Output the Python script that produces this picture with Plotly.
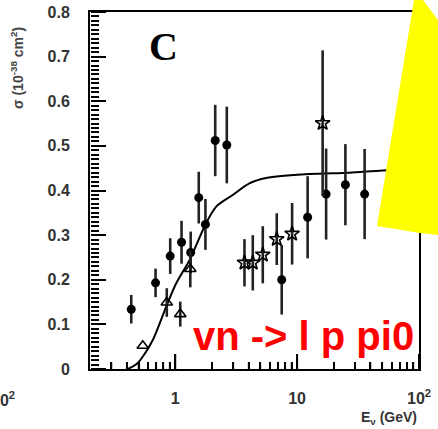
import plotly.graph_objects as go

# ---- data ----
dot_E = [0.436, 0.69, 0.91, 1.127, 1.34, 1.56, 1.77, 2.13, 2.65, 7.48, 12.2, 17.3, 24.9, 35.8]
dot_sig = [0.134, 0.193, 0.253, 0.284, 0.261, 0.384, 0.324, 0.512, 0.502, 0.200, 0.340, 0.392, 0.413, 0.392]
dot_err = [0.032, 0.032, 0.040, 0.048, 0.047, 0.058, 0.057, 0.080, 0.086, 0.078, 0.092, 0.102, 0.091, 0.101]

star_E = [3.70, 4.33, 5.23, 6.81, 9.1, 16.2]
star_sig = [0.238, 0.238, 0.256, 0.291, 0.303, 0.551]
star_err = [0.053, 0.062, 0.064, 0.058, 0.069, 0.163]

tri_E = [0.542, 0.853, 1.10, 1.33]
tri_sig = [0.052, 0.149, 0.123, 0.224]
tri_err = [0.0, 0.032, 0.028, 0.041]

fit_E = [0.399, 0.422, 0.482, 0.543, 0.655, 0.844, 1.019, 1.31, 1.795, 2.17, 2.965, 4.06, 5.57, 12.6, 26.9, 50.3, 98.7]
fit_sig = [0.0, 0.002, 0.011, 0.028, 0.065, 0.140, 0.192, 0.244, 0.327, 0.364, 0.390, 0.416, 0.428, 0.437, 0.440, 0.445, 0.447]

x_tickvals = [1, 10, 100]
x_ticktext = ["1", "10", "10<sup>2</sup>"]
x_minor = [0.3, 0.4, 0.5, 0.6, 0.7, 0.8, 0.9, 2, 3, 4, 5, 6, 7, 8, 9,
           20, 30, 40, 50, 60, 70, 80, 90]
y_tickvals = [0, 0.1, 0.2, 0.3, 0.4, 0.5, 0.6, 0.7, 0.8]
y_ticktext = ["0", "0.1", "0.2", "0.3", "0.4", "0.5", "0.6", "0.7", "0.8"]

X_RANGE = [-0.699, 2.0]
Y_RANGE = [0, 0.8]

ERRC = "#222222"
fig = go.Figure()

fig.add_trace(go.Scatter(
    x=fit_E, y=fit_sig, mode="lines", line=dict(color="black", width=2, shape="spline", smoothing=0.8),
    hoverinfo="skip", showlegend=False))

fig.add_trace(go.Scatter(
    x=dot_E, y=dot_sig, mode="markers",
    marker=dict(symbol="circle", size=9, color="black"),
    error_y=dict(type="data", array=dot_err, color=ERRC, thickness=2.6, width=0),
    showlegend=False))

fig.add_trace(go.Scatter(
    x=star_E, y=star_sig, mode="markers",
    marker=dict(symbol="star-open", size=11, color="black", line=dict(width=1.6, color="black")),
    error_y=dict(type="data", array=star_err, color=ERRC, thickness=2.6, width=0),
    showlegend=False))

fig.add_trace(go.Scatter(
    x=tri_E, y=tri_sig, mode="markers",
    marker=dict(symbol="triangle-up-open", size=10, color="black", line=dict(width=1.6, color="black")),
    error_y=dict(type="data", array=tri_err, color=ERRC, thickness=2.6, width=0),
    showlegend=False))

# invisible carriers so the tick-only overlay axes are drawn
for xa, ya in (("x2", "y2"), ("x3", "y3")):
    fig.add_trace(go.Scatter(x=fit_E, y=fit_sig, xaxis=xa, yaxis=ya, mode="lines",
                             line=dict(color="rgba(0,0,0,0)", width=0), hoverinfo="skip",
                             showlegend=False))

tickfont = dict(family="Liberation Sans", size=16, color="#333333", weight="bold")
tick_common = dict(showline=False, showgrid=False, zeroline=False, showticklabels=False,
                   ticks="outside", tickcolor="black")

fig.update_layout(
    xaxis=dict(
        type="log", range=X_RANGE, automargin=False,
        tickmode="array", tickvals=x_tickvals, ticktext=x_ticktext, ticks="",
        showline=True, linewidth=2, linecolor="black", mirror=True,
        showgrid=False, zeroline=False, tickfont=tickfont, ticklabelstandoff=14),
    yaxis=dict(
        range=Y_RANGE, automargin=False,
        tickmode="array", tickvals=y_tickvals, ticktext=y_ticktext, ticks="",
        showline=True, linewidth=2, linecolor="black", mirror=True,
        showgrid=False, zeroline=False, tickfont=tickfont, ticklabelstandoff=15),
    # tick marks pointing into the frame
    xaxis2=dict(type="log", range=X_RANGE, overlaying="x", anchor="free", position=0, side="top",
                automargin=False, tickmode="array", tickvals=x_tickvals, ticklen=15, tickwidth=2,
                **tick_common),
    xaxis3=dict(type="log", range=X_RANGE, overlaying="x", anchor="free", position=0, side="top",
                automargin=False, tickmode="array", tickvals=x_minor, ticklen=7, tickwidth=1.5,
                **tick_common),
    yaxis2=dict(range=Y_RANGE, overlaying="y", anchor="free", position=0, side="right",
                automargin=False, tickmode="array", tickvals=y_tickvals, ticklen=15, tickwidth=2,
                **tick_common),
    yaxis3=dict(range=Y_RANGE, overlaying="y", anchor="free", position=0, side="right",
                automargin=False, tickmode="linear", tick0=0, dtick=0.01, ticklen=8, tickwidth=1.5,
                **tick_common),
)

# bottom-axis tick marks (inside), placed at the tick values through the x scale
PLOT_H = 429 - 12 - 60
for v in x_tickvals:
    fig.add_shape(type="line", xref="x", yref="paper", x0=v, x1=v, y0=0, y1=15 / PLOT_H,
                  line=dict(color="black", width=2), layer="above")
for v in x_minor:
    fig.add_shape(type="line", xref="x", yref="paper", x0=v, x1=v, y0=0, y1=7 / PLOT_H,
                  line=dict(color="black", width=1.5), layer="above")

# yellow overlay polygon (from neighbouring page content)
fig.add_shape(type="path", xref="paper", yref="paper", layer="above", opacity=1,
              path="M 0.9848 1.0336 L 1.0122 1.0336 L 1.0578 0.9776 L 1.0578 0.3753 L 1.003 0.381 L 0.8723 0.4006 Z",
              fillcolor="#FFFF00", line=dict(width=0))

fig.add_annotation(xref="paper", yref="paper", x=0.222, y=0.902, xanchor="center", yanchor="middle",
                   text="C", showarrow=False,
                   font=dict(family="Liberation Serif", size=40, color="black", weight="bold"))

fig.add_annotation(xref="paper", yref="paper", x=0.991, y=0.092, xanchor="right", yanchor="middle",
                   text="vn -> l p pi0", showarrow=False,
                   font=dict(family="Liberation Sans", size=40, color="#FF0000", weight="bold"))

fig.add_annotation(xref="paper", yref="paper", x=1.0, y=-0.137, xanchor="right", yanchor="middle",
                   text="E<sub>ν</sub> (GeV)", showarrow=False,
                   font=dict(family="Liberation Sans", size=14, color="#333333", weight="bold"))

fig.add_annotation(xref="paper", yref="paper", x=-0.222, y=0.843, textangle=-90,
                   xanchor="center", yanchor="middle",
                   text="σ (10<sup>-38</sup> cm<sup>2</sup>)", showarrow=False,
                   font=dict(family="Liberation Sans", size=14, color="#444444", weight="bold"))

# fragments of neighbouring panel
fig.add_annotation(xref="paper", yref="paper", x=-0.222, y=-0.085, xanchor="right", yanchor="middle",
                   text="10<sup>2</sup>", showarrow=False, font=tickfont)
fig.add_annotation(xref="paper", yref="paper", x=-0.265, y=0.104, xanchor="right", yanchor="middle",
                   text="-", showarrow=False,
                   font=dict(family="Liberation Sans", size=20, color="#FF0000", weight="bold"))

fig.update_layout(
    width=438, height=429,
    margin=dict(l=90, r=19, t=12, b=60, autoexpand=False),
    paper_bgcolor="white", plot_bgcolor="white",
    showlegend=False)

fig.write_html("out.html", config={"displayModeBar": False},
               post_script="document.body.style.margin='0px';document.body.style.padding='0px';")
